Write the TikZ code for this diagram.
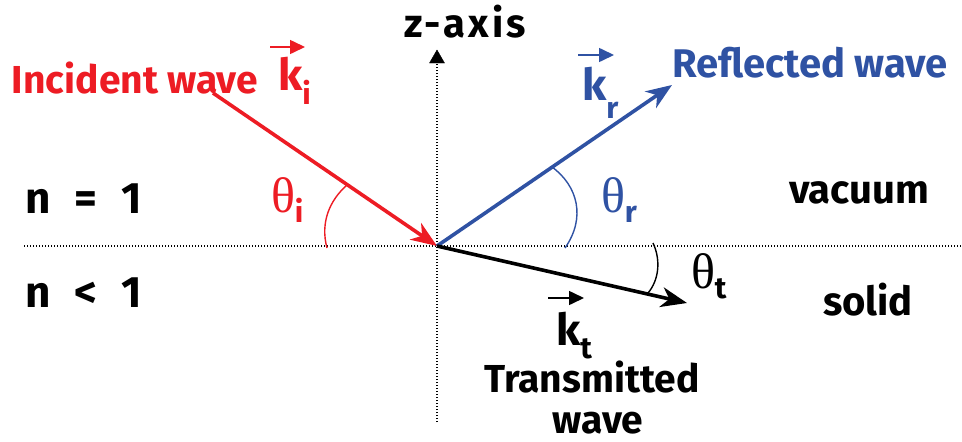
\documentclass[tikz,border=0pt]{standalone}
\usepackage{fontspec}
\setmainfont{Fira Sans}
\newfontfamily\thetafont{Liberation Serif}
\usetikzlibrary{arrows.meta,calc}
\definecolor{incred}{RGB}{237,28,36}
\definecolor{refblue}{RGB}{47,82,163}
\newcommand{\thlbl}[1]{{\thetafont\fontsize{50}{50}\selectfont θ}\raisebox{-10pt}{\bfseries\fontsize{30}{30}\selectfont #1}}
\newcommand{\klbl}[2]{k\raisebox{#2}{\fontsize{30}{30}\selectfont #1}}
\begin{document}
\begin{tikzpicture}[x=1pt,y=1pt,
  every node/.style={inner sep=0pt, outer sep=0pt},
  big/.style={font=\bfseries\fontsize{40}{40}\selectfont},
  nlbl/.style={font=\bfseries\fontsize{44}{44}\selectfont},
  wavelbl/.style={font=\bfseries\fontsize{39}{39}\selectfont},
  translbl/.style={font=\bfseries\fontsize{39}{39}\selectfont},
  kfont/.style={font=\bfseries\fontsize{44}{44}\selectfont},
  dots/.style={line width=1.3pt, dash pattern=on 1.3pt off 1.7pt},
  ray/.style={line width=3.6pt, -{Stealth[length=26pt,width=20pt,inset=8pt]}},
  vecar/.style={line width=1.6pt, -{Triangle[length=15pt,width=14pt]}},
  anglearc/.style={line width=1.4pt}
]
\useasboundingbox (0,0) rectangle (962,-442);
\coordinate (O) at (437,-246);
\coordinate (hl) at (24,-246);
\coordinate (hr) at (962,-246);
\coordinate (vb) at (437,-422);
\coordinate (vt) at (437,-50);
\coordinate (Istart) at (213,-93);
\coordinate (Rend) at (672,-85);
\coordinate (Tend) at (687,-303);

% axes
\draw[dots] (hl) -- (hr);
\draw[dots] (vb) -- ($(vt)+(0,-12)$);
\draw[fill=black] (vt) -- ++(-7.5,-13) -- ++(15,0) -- cycle;
\node[font=\bfseries\fontsize{40}{40}\selectfont\addfontfeature{LetterSpace=8}, anchor=base] (zlab) at (465,-37) {z-axis};

% rays
\draw[ray, incred] (Istart) -- (O);
\draw[ray, refblue] (O) -- (Rend);
\draw[ray, black] (O) -- (Tend);

% angle arcs
\draw[anglearc, incred] (347,-185) .. controls (330,-200) and (320,-222) .. (327,-248);
\draw[anglearc, refblue] (552,-167) .. controls (578,-186) and (586,-218) .. (565,-248);
\draw[anglearc, black] (653,-243) .. controls (661,-260) and (659,-280) .. (648,-293);

% angle labels
\node[incred, anchor=base west] (thi) at (271,-212) {\thlbl{i}};
\node[refblue, anchor=base west] (thr) at (601,-212) {\thlbl{r}};
\node[black, anchor=base west] (tht) at (691,-288) {\thlbl{t}};

% wave labels
\node[wavelbl, incred, anchor=base west] (inc) at (12,-93) {Incident wave};
\node[kfont, incred, anchor=base west] (ki) at (278,-90) {\klbl{i}{-14pt}};
\draw[vecar, incred] (270,-47) -- (305,-47);

\node[font=\bfseries\fontsize{40}{40}\selectfont, refblue, anchor=base west] (refl) at (672,-77) {Reflected wave};
\node[kfont, refblue, anchor=base west] (kr) at (582,-100) {\klbl{r}{-18pt}};
\draw[vecar, refblue] (578,-55) -- (614,-55);

\node[kfont, black, anchor=base west] (kt) at (556,-345) {\klbl{t}{-13pt}};
\draw[vecar, black] (548,-298) -- (584,-298);
\node[translbl, anchor=base] (trans) at (592,-392) {Transmitted};
\node[translbl, anchor=base] (twave) at (598,-433) {wave};

% media
\node[nlbl, anchor=base west] (n1) at (25,-213) {n\hspace{0.55em}=\hspace{0.55em}1};
\node[nlbl, anchor=base west] (n2) at (25,-307) {n\hspace{0.55em}<\hspace{0.55em}1};
\node[big, anchor=base] (vac) at (859,-203) {vacuum};
\node[big, anchor=base] (sol) at (868,-315) {solid};
\end{tikzpicture}
\end{document}
